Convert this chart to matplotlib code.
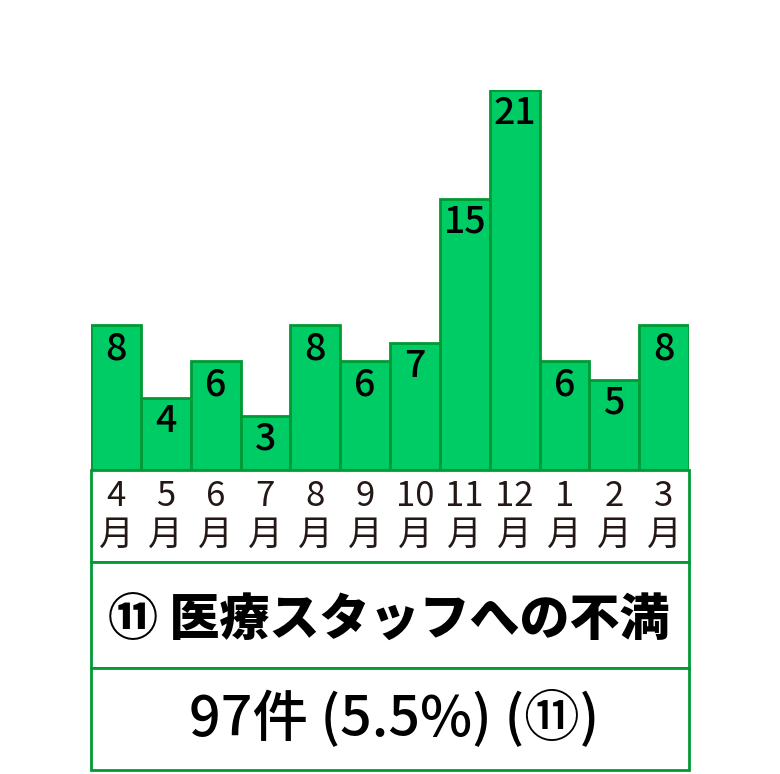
import matplotlib
matplotlib.use('Agg')
import matplotlib.pyplot as plt
from matplotlib.patches import Rectangle

plt.rcParams['font.family'] = ['Noto Sans CJK JP', 'DejaVu Sans']

months = ['4', '5', '6', '7', '8', '9', '10', '11', '12', '1', '2', '3']
counts = [8, 4, 6, 3, 8, 6, 7, 15, 21, 6, 5, 8]
title = '⑪ 医療スタッフへの不満'
summary = '97件 (5.5%) (⑪)'

fill = '#00cc66'
edge = '#009933'

W, H = 780, 774
fig = plt.figure(figsize=(W / 100, H / 100), dpi=100)

# bar area: x 91..689 px, y 90..470 px (top = 21)
ax = fig.add_axes([91 / W, (H - 470) / H, 598 / W, 380 / H])
ax.bar(range(len(counts)), counts, width=1.0, color=fill, edgecolor=edge, linewidth=2)
ax.set_xlim(-0.5, len(counts) - 0.5)
ax.set_ylim(0, max(counts))
ax.axis('off')

for i, v in enumerate(counts):
    ax.text(i, v - 0.22, str(v), ha='center', va='top', fontsize=27,
            fontweight='medium', color='black')

# boxes below the bars
def box(y0, y1):
    fig.patches.append(Rectangle((91 / W, (H - y1) / H), 598 / W, (y1 - y0) / H,
                                 transform=fig.transFigure, facecolor='white',
                                 edgecolor=edge, linewidth=2))

box(470, 562)
box(562, 668)
box(668, 770)

for i, m in enumerate(months):
    x = (91 + 598 * (i + 0.5) / len(months)) / W
    fig.text(x, (H - 497) / H, m, ha='center', va='center', fontsize=25, color='#231815')
    fig.text(x, (H - 535) / H, '月', ha='center', va='center', fontsize=25, color='#231815')

fig.text(0.5 * (105 + 672) / W, (H - 620) / H, title, ha='center', va='center',
         fontsize=36, fontweight='heavy', color='black')
fig.text(0.5 * (188 + 600) / W, (H - 718) / H, summary, ha='center', va='center',
         fontsize=40, fontweight='medium', color='black')

fig.savefig('out.png', dpi=100, facecolor='white')
